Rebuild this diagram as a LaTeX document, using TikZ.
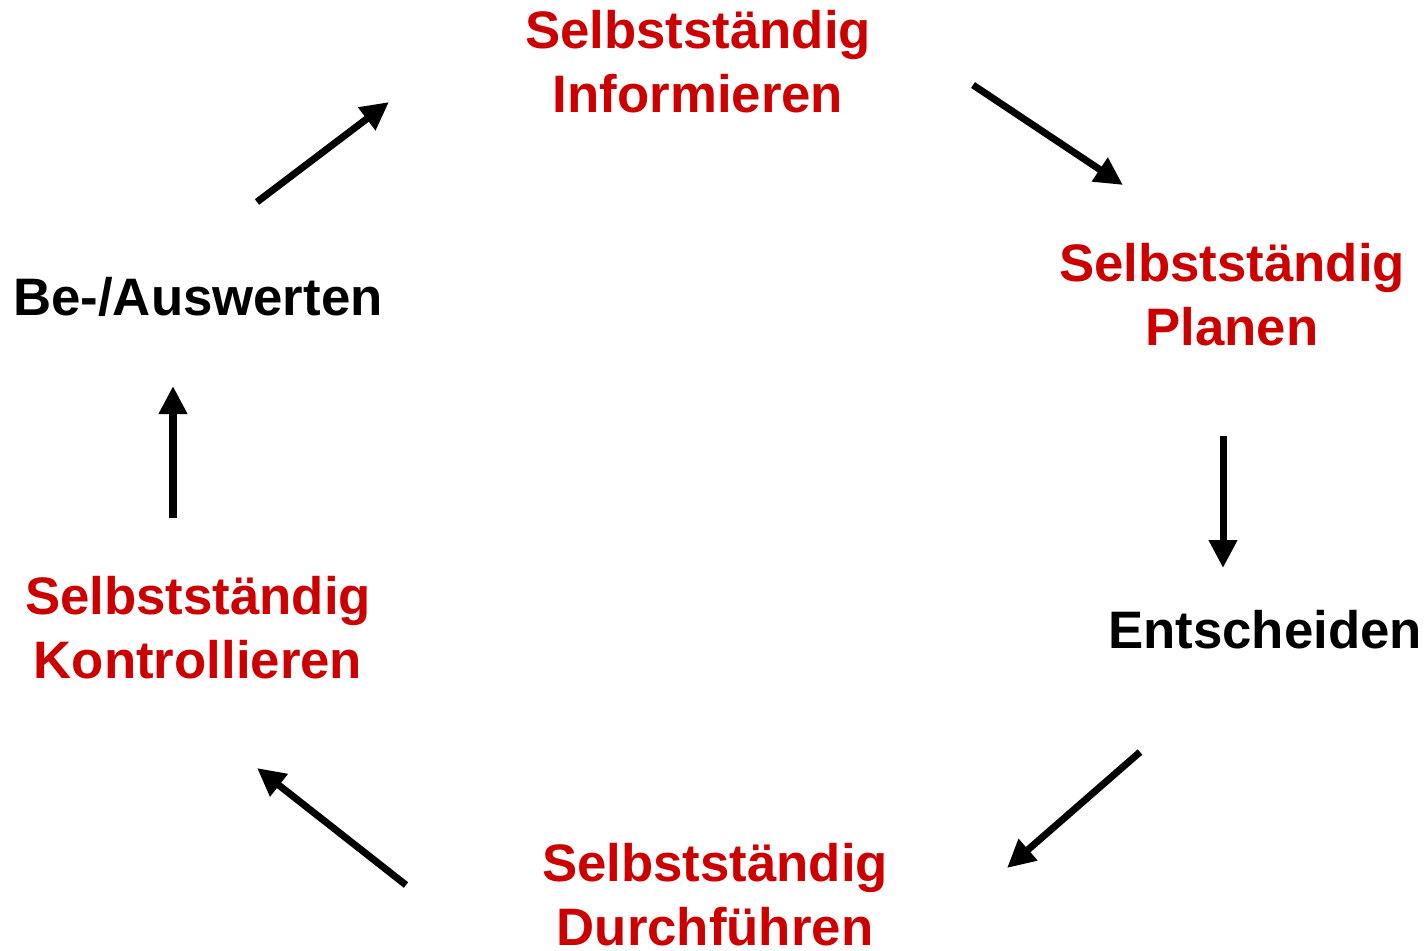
\documentclass[tikz,border=0pt]{standalone}
\usepackage{fontspec}
\setmainfont{Liberation Sans}
\usetikzlibrary{arrows.meta}
\definecolor{stepred}{HTML}{CC0000}
\tikzset{
  lbl/.style={font=\bfseries\fontsize{15}{18.2}\selectfont, align=center, inner sep=0pt},
  redlbl/.style={lbl, text=stepred},
  blacklbl/.style={lbl, text=black},
  arr/.style={line width=0.07cm, -{Triangle[length=0.28cm,width=0.27cm]}, black}
}
\begin{document}
\begin{tikzpicture}[x=0.01cm,y=-0.01cm]
\useasboundingbox (0,0) rectangle (1427,950);
\node[redlbl] (info) at (698,62) {Selbstständig\\Informieren};
\node[redlbl] (plan) at (1232,295) {Selbstständig\\Planen};
\node[blacklbl] (ent) at (1265,630) {Entscheiden};
\node[redlbl] (durch) at (715,895) {Selbstständig\\Durchführen};
\node[redlbl] (kontr) at (198,628) {Selbstständig\\Kontrollieren};
\node[blacklbl] (bew) at (198,297) {Be-/Auswerten};
\coordinate (a1s) at (257,202); \coordinate (a1e) at (389,102);
\coordinate (a2s) at (973,85);  \coordinate (a2e) at (1123,185);
\coordinate (a3s) at (1223,436); \coordinate (a3e) at (1223,568);
\coordinate (a4s) at (1140,752); \coordinate (a4e) at (1007,868);
\coordinate (a5s) at (406,885); \coordinate (a5e) at (257,768);
\coordinate (a6s) at (173,518); \coordinate (a6e) at (173,386);
\draw[arr] (a1s) -- (a1e);
\draw[arr] (a2s) -- (a2e);
\draw[arr] (a3s) -- (a3e);
\draw[arr] (a4s) -- (a4e);
\draw[arr] (a5s) -- (a5e);
\draw[arr] (a6s) -- (a6e);
\end{tikzpicture}
\end{document}
